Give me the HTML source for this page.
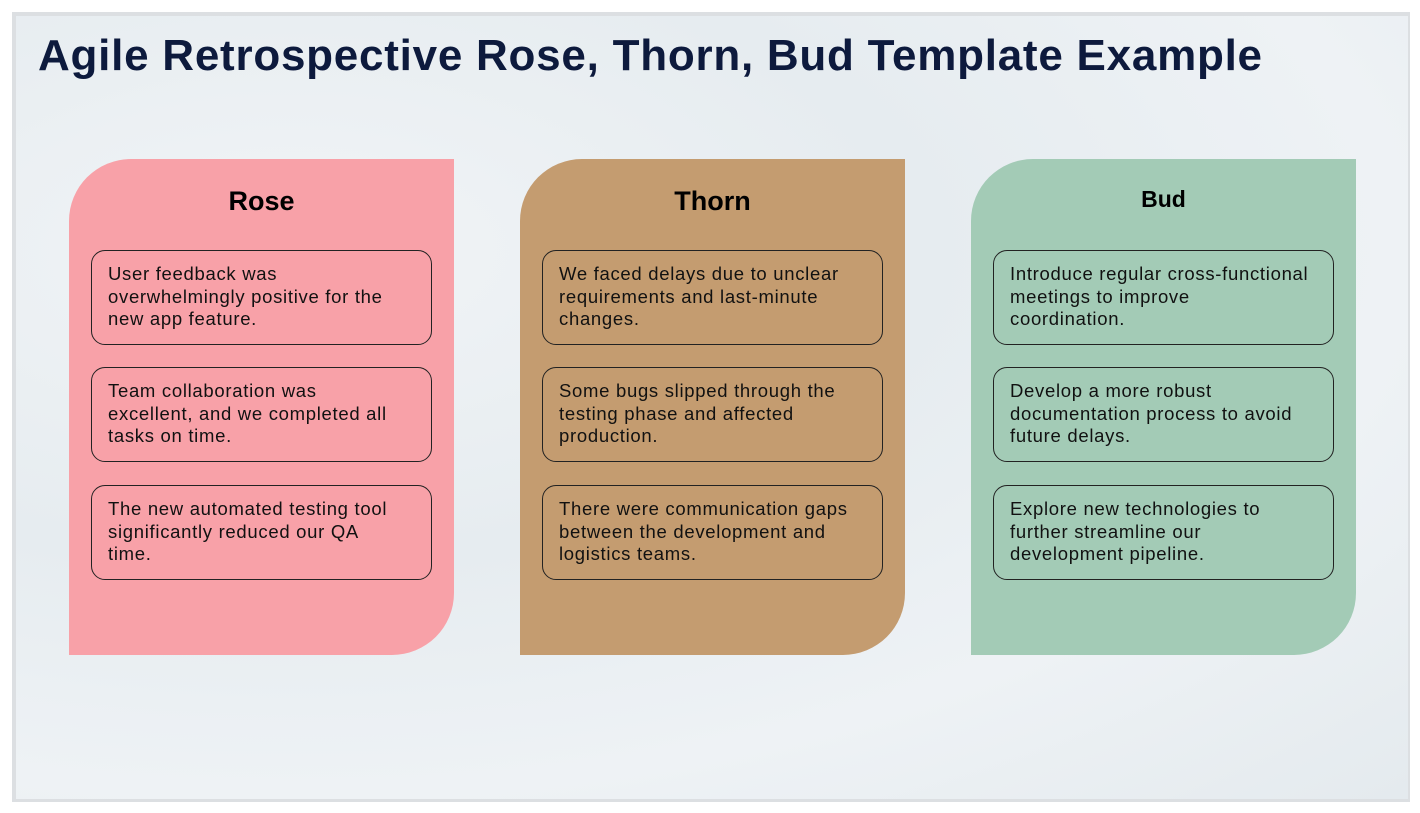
<!DOCTYPE html>
<html><head><style>
body{margin:0;width:1420px;height:813px;background:#fff;position:relative;overflow:hidden;font-family:"Liberation Sans",sans-serif}
.frame{position:absolute;left:12px;top:12px;width:1398px;height:790px;background:#dcdfe2}
.slide{position:absolute;left:16px;top:16px;width:1392px;height:783px;background:radial-gradient(ellipse at 20% 30%,#f1f4f6,#e6ecf0 40%,#eef2f5 70%,#e4eaee)}
h1{position:absolute;left:38px;top:31px;margin:0;font-size:44px;font-weight:bold;color:#0d1a3d;letter-spacing:0.75px;white-space:nowrap}
.card{position:absolute;top:159px;width:385px;height:496px;border-radius:62px 0 62px 0}
.card .hd{position:absolute;left:0;width:100%;text-align:center;font-size:27px;font-weight:bold}
.box{position:absolute;left:22px;width:341px;height:95px;border:1px solid #222;border-radius:14px;box-sizing:border-box;padding:12px 6px 0 16px;font-size:18.5px;line-height:22.5px;color:#111;white-space:nowrap;letter-spacing:0.7px}
</style></head><body>
<div class="frame"></div><div class="slide"></div>
<h1>Agile Retrospective Rose, Thorn, Bud Template Example</h1>
<div class="card" style="left:69px;background:#f8a1a8">
<div class="hd" style="top:27px">Rose</div>
<div class="box" style="top:91px">User feedback was<br>overwhelmingly positive for the<br>new app feature.</div>
<div class="box" style="top:208px">Team collaboration was<br>excellent, and we completed all<br>tasks on time.</div>
<div class="box" style="top:326px">The new automated testing tool<br>significantly reduced our QA<br>time.</div>
</div>
<div class="card" style="left:520px;background:#c49c70">
<div class="hd" style="top:27px">Thorn</div>
<div class="box" style="top:91px">We faced delays due to unclear<br>requirements and last-minute<br>changes.</div>
<div class="box" style="top:208px">Some bugs slipped through the<br>testing phase and affected<br>production.</div>
<div class="box" style="top:326px">There were communication gaps<br>between the development and<br>logistics teams.</div>
</div>
<div class="card" style="left:971px;background:#a3cbb6">
<div class="hd" style="top:27px;font-size:23px">Bud</div>
<div class="box" style="top:91px">Introduce regular cross-functional<br>meetings to improve<br>coordination.</div>
<div class="box" style="top:208px">Develop a more robust<br>documentation process to avoid<br>future delays.</div>
<div class="box" style="top:326px">Explore new technologies to<br>further streamline our<br>development pipeline.</div>
</div>
</body></html>
